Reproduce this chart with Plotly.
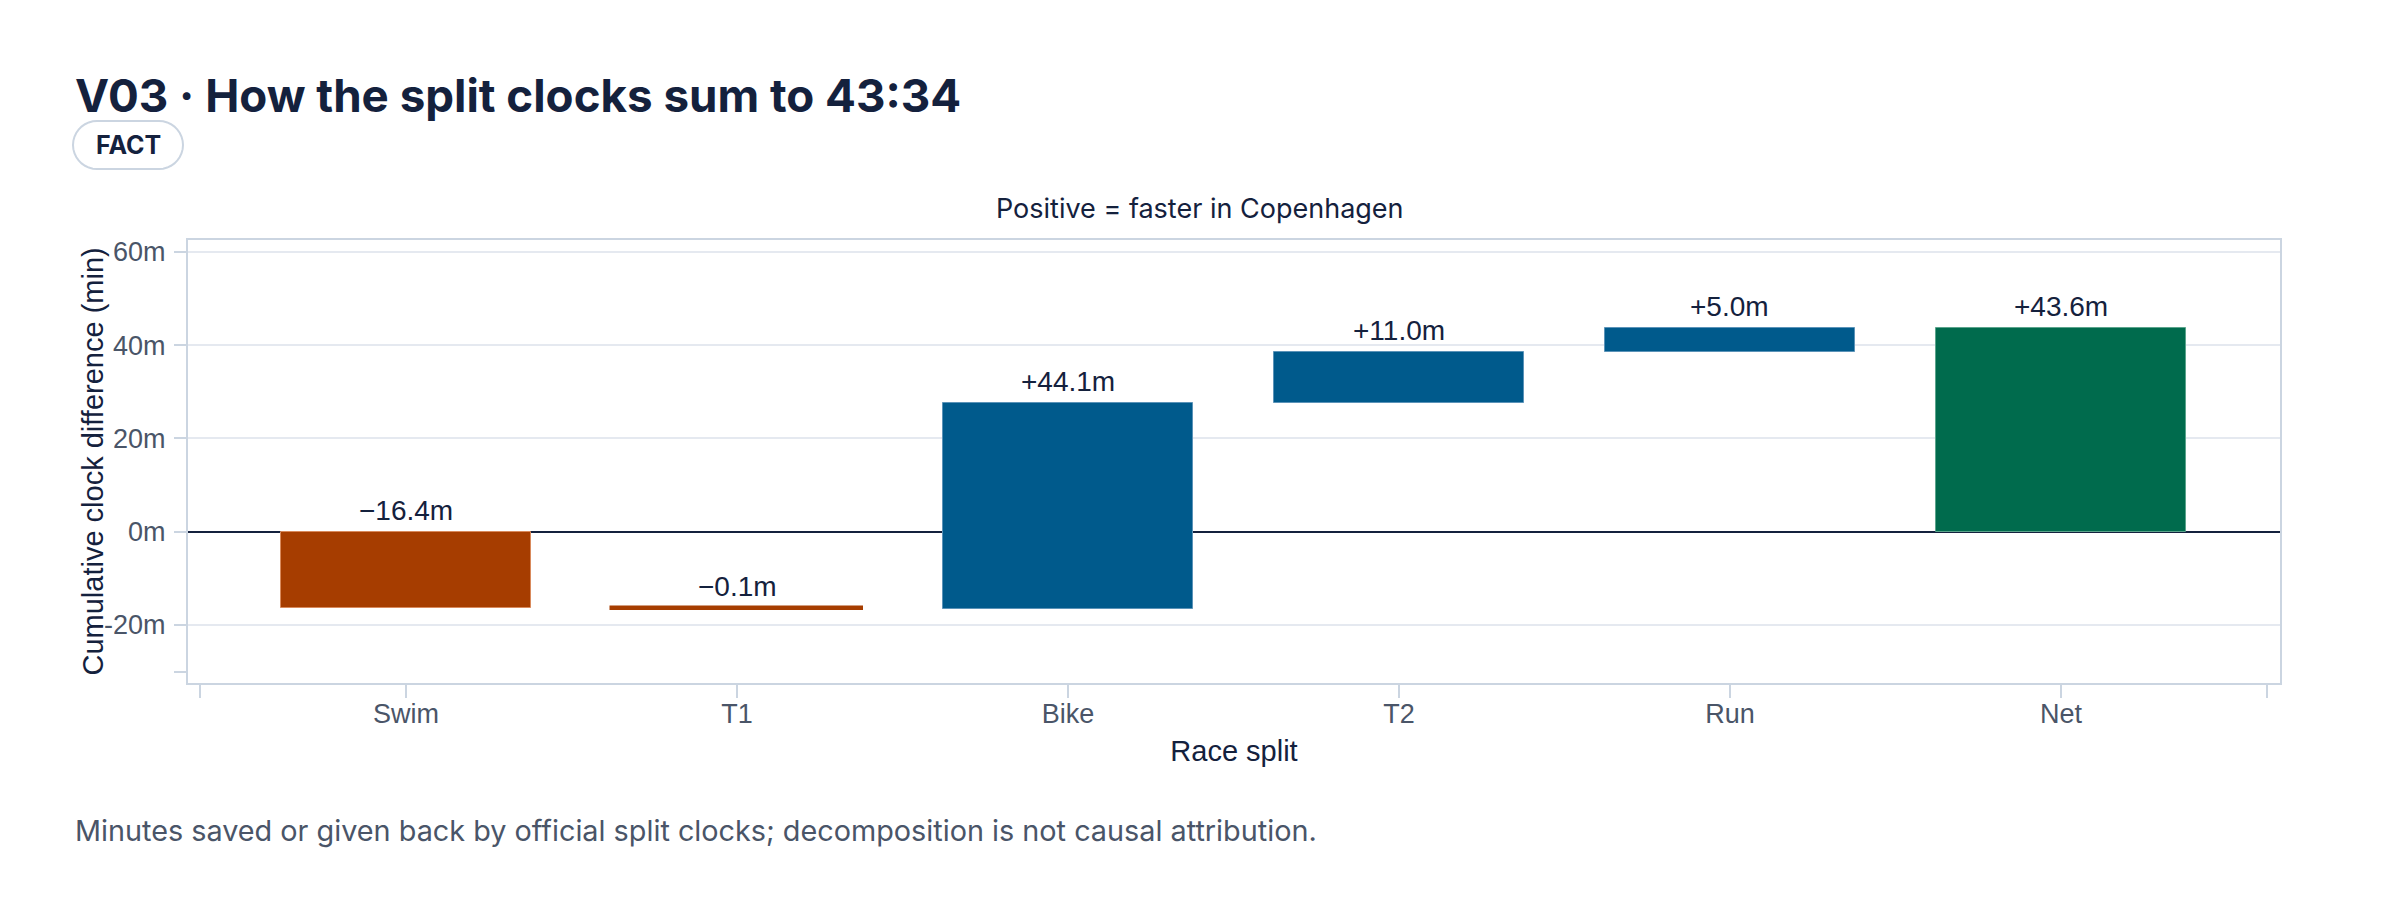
import math
import plotly.graph_objects as go

# race splits and the clock difference for each (minutes, + = faster in Copenhagen)
splits = ['Swim', 'T1', 'Bike', 'T2', 'Run', 'Net']
split_deltas = [-16.4, -0.1, 44.1, 11.0, 5.0]
net_total = 43.6
y_tick_vals = [-20, 0, 20, 40, 60]
y_tick_text = ['-20m', '0m', '20m', '40m', '60m']

NAVY = '#14213d'
SLATE = '#4a5568'
LINE = '#cbd5e1'
GRID = '#e5e9f0'
NEG, NEG_EDGE = '#a63d00', '#d98a5c'
POS, POS_EDGE = '#005a8c', '#5b93b8'
TOT, TOT_EDGE = '#006b4d', '#5ba48c'
SANS = 'Liberation Sans, Arial, sans-serif'
INTER = 'Inter, Noto Sans, sans-serif'


def fmt(v):
    sign = '+' if v >= 0 else '\u2212'
    return f'{sign}{abs(v):.1f}m'


# waterfall geometry: floating bars from the running total
bases, heights, colors, edges, labels = [], [], [], [], []
running = 0.0
for d in split_deltas:
    start, end = running, running + d
    bases.append(min(start, end))
    heights.append(abs(d))
    colors.append(NEG if d < 0 else POS)
    edges.append(NEG_EDGE if d < 0 else POS_EDGE)
    labels.append(fmt(d))
    running = end
bases.append(0.0)
heights.append(net_total)
colors.append(TOT)
edges.append(TOT_EDGE)
labels.append(fmt(net_total))
tops = [b + h for b, h in zip(bases, heights)]
xpos = list(range(len(splits)))

# very thin bars get a thick outline in their own colour so they stay visible
edge_w = [1 if h > 1 else 3.5 for h in heights]
edge_c = [e if h > 1 else c for e, c, h in zip(edges, colors, heights)]

fig = go.Figure()
fig.add_trace(go.Bar(
    x=xpos, y=heights, base=bases, width=0.755,
    marker=dict(color=colors, line=dict(color=edge_c, width=edge_w)),
    hoverinfo='skip', showlegend=False))

# page body has an 8px margin, so work in page pixels and shift
OFF = 8
W, H = 2400 - 2 * OFF, 902 - 2 * OFF
L, R, T, B = 188 - OFF, 2280 - OFF, 240 - OFF, 683 - OFF


def px(x):
    return (x - OFF - L) / (R - L)


def py(y):
    return (B - (y - OFF)) / (B - T)


annotations = []
for i, (top, lab) in enumerate(zip(tops, labels)):
    annotations.append(dict(x=i, y=top, xref='x', yref='y', text=lab, showarrow=False,
                            yanchor='bottom', yshift=4,
                            font=dict(family=SANS, size=28, color=NAVY)))

annotations += [
    dict(x=px(73), y=py(95), xref='paper', yref='paper', xanchor='left', yanchor='middle',
         text='<b>V03 · How the split clocks sum to 43:34</b>', showarrow=False,
         font=dict(family=INTER, size=45.7, color=NAVY)),
    dict(x=px(128), y=py(145), xref='paper', yref='paper', xanchor='center', yanchor='middle',
         text='<b>FACT</b>', showarrow=False,
         font=dict(family=INTER, size=25, color=NAVY)),
    dict(x=px(1200), y=py(208), xref='paper', yref='paper', xanchor='center', yanchor='middle',
         text='Positive = faster in Copenhagen', showarrow=False,
         font=dict(family=INTER, size=27, color=NAVY)),
    dict(x=px(92), y=0.5, xref='paper', yref='paper', xanchor='center', yanchor='middle',
         text='Cumulative clock difference (min)', textangle=-90, showarrow=False,
         font=dict(family=SANS, size=29, color=NAVY)),
    dict(x=px(73), y=py(830), xref='paper', yref='paper', xanchor='left', yanchor='middle',
         text='Minutes saved or given back by official split clocks; decomposition is not causal attribution.',
         showarrow=False, font=dict(family=INTER, size=28.8, color=SLATE)),
]

# rounded pill around FACT
pw, ph = 110, 48
r = ph / 2
pts = []
for k in range(19):
    a = math.pi / 2 + math.pi * k / 18
    pts.append((r + r * math.cos(a), -r + r * math.sin(a)))
for k in range(19):
    a = -math.pi / 2 + math.pi * k / 18
    pts.append((pw - r + r * math.cos(a), -r + r * math.sin(a)))
pill = 'M ' + ' L '.join(f'{x:.2f},{y:.2f}' for x, y in pts) + ' Z'

fig.add_shape(type='path', path=pill, xref='paper', yref='paper',
              xsizemode='pixel', ysizemode='pixel', xanchor=px(73), yanchor=py(121),
              line=dict(color=LINE, width=2), fillcolor='white', layer='below')

fig.update_layout(
    width=W, height=H, autosize=False,
    margin=dict(l=L, r=W - R, t=T, b=H - B, autoexpand=False),
    paper_bgcolor='white', plot_bgcolor='white',
    annotations=annotations, bargap=0,
    xaxis=dict(
        range=[-0.659, 5.662], tickmode='array', tickvals=xpos, ticktext=splits,
        ticks='outside', ticklen=13, tickwidth=2, tickcolor=LINE,
        showline=True, linecolor=LINE, linewidth=2, mirror=True,
        showgrid=False, zeroline=False, ticklabelstandoff=-7,
        tickfont=dict(family=SANS, size=27, color=SLATE),
        minor=dict(tickmode='array', tickvals=[-0.622, 5.622], ticks='outside',
                   ticklen=13, tickwidth=2, tickcolor=LINE, showgrid=False),
        title=dict(text='Race split', font=dict(family=SANS, size=29, color=NAVY), standoff=12),
    ),
    yaxis=dict(
        range=[-32.44, 62.57], tickmode='array', tickvals=y_tick_vals, ticktext=y_tick_text,
        ticks='outside', ticklen=12, tickwidth=2, tickcolor=LINE,
        showline=True, linecolor=LINE, linewidth=2, mirror=True,
        showgrid=True, gridcolor=GRID, gridwidth=2,
        zeroline=True, zerolinecolor=NAVY, zerolinewidth=2, ticklabelstandoff=3,
        tickfont=dict(family=SANS, size=27, color=SLATE),
        minor=dict(tickmode='array', tickvals=[-30], ticks='outside',
                   ticklen=12, tickwidth=2, tickcolor=LINE, showgrid=False),
    ),
)

fig.write_html('out.html')
